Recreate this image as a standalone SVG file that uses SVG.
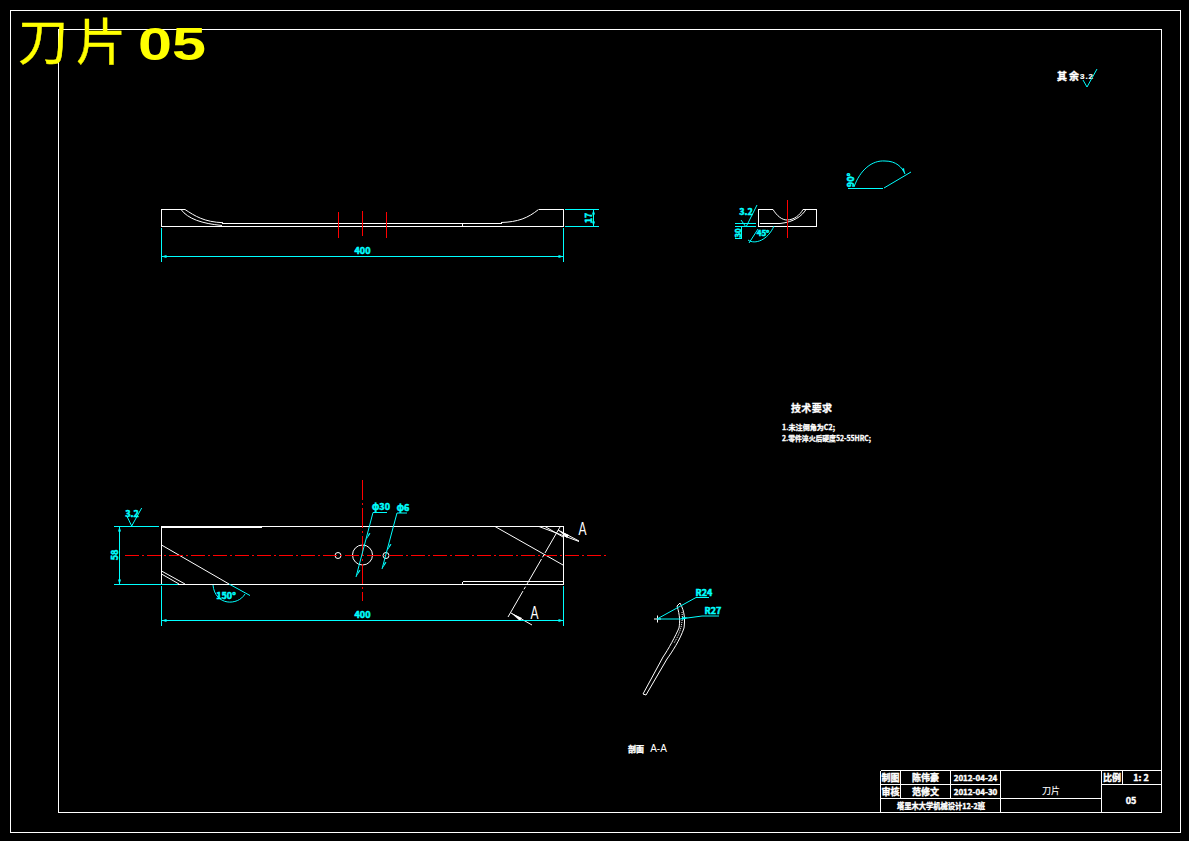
<svg xmlns="http://www.w3.org/2000/svg" width="1189" height="841" viewBox="0 0 1189 841">
<style>
.w{fill:none;stroke:#fff;stroke-width:1;shape-rendering:crispEdges}
.ws{fill:none;stroke:#fff;stroke-width:1}
.c{fill:none;stroke:#0ff;stroke-width:1;shape-rendering:crispEdges}
.cs{fill:none;stroke:#0ff;stroke-width:1}
.r{fill:none;stroke:#f00;stroke-width:1.2;shape-rendering:crispEdges}
.cd{fill:none;stroke:#f00;stroke-width:1;stroke-dasharray:14 3 2 3;shape-rendering:crispEdges}
.a{fill:#0ff;stroke:none}
.l{font-family:"Liberation Sans",sans-serif}
text{font-family:"Noto Sans CJK SC","Liberation Sans",sans-serif}
.tc{fill:#0ff;stroke:#0ff;stroke-width:.5;font-size:9px;font-weight:700;text-anchor:middle}
.tw{fill:#fff;stroke:#fff;stroke-width:.4;font-size:9px;font-weight:700;text-anchor:middle}
</style>
<rect width="1189" height="841" fill="#000"/>
<g id="frame">
<rect class="w" x="10.500" y="10.500" width="1170" height="822"/>
<rect class="w" x="58.500" y="29.500" width="1103" height="783"/>
</g>
<g id="title">
<text x="18" y="60" font-size="50" fill="#ff0" stroke="#ff0" stroke-width=".4" textLength="108">刀片</text>
<text class="l" x="138" y="60" font-size="47" font-weight="700" fill="#ff0" textLength="68" lengthAdjust="spacingAndGlyphs">05</text>
</g>
<g id="roughness-note">
<text class="tw" x="1057" y="80" style="font-size:10px;text-anchor:start" textLength="22">其余</text>
<text class="tw l" x="1080" y="79" style="font-size:8px;text-anchor:start;stroke-width:.2" textLength="13">3.2</text>
<path class="cs" d="M1083 80L1087 87L1097 69"/>
</g>
<g id="top-view">
<path class="w" d="M161.500 226.500V209.500H185M161.500 226.500H563.500V209.500H538.500M222 223.500H502M462.500 223.500V226.500"/>
<path class="ws" d="M185 209.500C195 216 204 222 223 222.700M181 209.500C188 219 202 223.500 222 225.500M538.500 209.500C528 218 518 222 501 222.500"/>
<path class="r" d="M338.500 212V238M362.500 211V236M386.500 212V238"/>
</g>
<g id="top-dimensions">
<path class="c" d="M161.500 228V262M563.500 228V262M161.500 256.500H563.500M565 209.500H599M565 226.500H599M593.500 209.500V226.500"/>
<path class="a" d="M161.500 256.500l5-1.500v3zM563.500 256.500l-5-1.500v3zM593.500 209.500l-1.500 5h3zM593.500 226.500l-1.500-5h3z"/>
<text class="tc" x="362.500" y="254">400</text>
<text class="tc" transform="translate(592 218) rotate(-90)">17</text>
</g>
<g id="plan-view">
<path class="w" d="M161.500 584.500V526.500H563.500V584.500H161.500M462.500 581.500H563.500M462.500 581.500V584.500"/>
<path class="w" style="stroke-width:2" d="M162 526.500H262"/>
<path class="ws" d="M161.500 545L229 584M161.500 571L185 584M161.500 574L179 584M495 526.500L563 565M539 526.500L579 541.500M545 526.500L563 537"/>
<circle class="ws" cx="362.500" cy="555" r="10"/>
<circle class="ws" cx="338" cy="555.500" r="3"/>
<circle class="ws" cx="386" cy="555.500" r="3"/>
<path class="cd" d="M125 555.500H608"/>
<path class="r" stroke-dasharray="20 3 2 3" d="M362.500 480V601"/>
<path class="ws" stroke-dasharray="30 2 3 2" d="M560 527L508 617"/>
<path class="ws" d="M511 613L532 625M558 530L579 541"/>
<path d="M511 613l11 5-2 3zM558 530l11 5-2 3z" fill="#fff"/>
<text class="l" x="582.500" y="535" font-size="19" fill="#fff" text-anchor="middle" textLength="8" lengthAdjust="spacingAndGlyphs">A</text>
<text class="l" x="534.500" y="619" font-size="19" fill="#fff" text-anchor="middle" textLength="8" lengthAdjust="spacingAndGlyphs">A</text>
</g>
<g id="plan-dimensions">
<path class="c" d="M114 526.500H159M114 584.500H178M119.500 526.500V584.500M161.500 586V626M563.500 586V626M161.500 620.500H563.500"/>
<path class="a" d="M119.500 526.500l-1.500 5h3zM119.500 584.500l-1.500-5h3zM161.500 620.500l5-1.500v3zM563.500 620.500l-5-1.500v3z"/>
<path class="cs" d="M229 584L250 595.500M213 585C215 606 238 606 245 594"/>
<path class="cs" d="M126.700 515.700L131.700 526L141.700 508"/>
<text class="tc" x="132" y="517">3.2</text>
<text class="tc" transform="translate(118 555) rotate(-90)">58</text>
<text class="tc" x="226" y="599">150°</text>
<text class="tc" x="362.500" y="618">400</text>
<path class="cs" d="M356 577L373 512.500H387M382 569L397 513H407"/>
<path class="a" d="M356 577l3-7 1.500 .5zM366 540l3-7 1.500 .5zM382 569l3-7 1.500 .5zM387 551l3-7 1.500 .5z"/>
<text class="tc" x="381" y="510">φ30</text>
<text class="tc" x="403" y="511">φ6</text>
</g>
<g id="detail-view">
<path class="w" d="M758.500 226.500V209.500H773M758.500 226.500H816.500V209.500H803M760 223.500H780"/>
<path class="ws" d="M773 209.500C777 216 782 220 787 220C794 220 800 215 803 209.500M806 209.500C802 216 794 222 780 223.500"/>
<path class="r" d="M787.500 200V238"/>
<path class="c" d="M735 223.500H756M735 226.500H756M735 238.500H741M741 226.500V238.500"/>
<path class="cs" d="M741 220L746 227L757 205M749 243L758 229M748 240C755 245 768 240 774 226"/>
<text class="tc" x="746" y="215">3.2</text>
<text class="tc" transform="translate(741 233) rotate(-90)" style="font-size:8px">30</text>
<text class="tc" x="763" y="236" style="font-size:8px">45°</text>
</g>
<g id="detail-angle">
<path class="c" d="M848 188.500H883"/>
<path class="cs" d="M854 187C860 170 872 160 885 161C896 161 902 167 905 174M884 188L911 172"/>
<path class="a" d="M905 174l-3-5 2-1z"/>
<text class="tc" transform="translate(854 180) rotate(-90)">90°</text>
</g>
<g id="tech-notes">
<text class="tw" x="791" y="412" style="font-size:10px;stroke-width:.3;text-anchor:start" textLength="41">技术要求</text>
<text class="tw" x="782" y="430" style="text-anchor:start;font-size:7px;stroke-width:.3" textLength="53" lengthAdjust="spacingAndGlyphs">1.未注倒角为C2;</text>
<text class="tw" x="782" y="441" style="text-anchor:start;font-size:7px;stroke-width:.3" textLength="89" lengthAdjust="spacingAndGlyphs">2.零件淬火后硬度52-55HRC;</text>
</g>
<g id="section-view">
<path class="ws" d="M643 694L646 695L667 659C672 652 680 640 684 628C685 620 685 612 680 603L677 606C680 615 680 622 679 628C676 635 668 650 663 657Z"/>
<path class="ws" stroke-dasharray="1 1" d="M682 612C683 622 681 632 674 643"/>
<path class="ws" d="M654 619H661M657.500 615.500V622.500"/>
<path class="cs" d="M657 619L696 597.500H709M657 619H680L702 616H719"/>
<path class="a" d="M688 617.500l-6-.5 0 3z"/>
<text class="tc" x="704" y="596">R24</text>
<text class="tc" x="713" y="614">R27</text>
<text class="tw" x="636" y="752" style="font-size:8px">剖面</text>
<text class="l" x="658.500" y="752" font-size="10" fill="#fff" text-anchor="middle">A-A</text>
</g>
<g id="title-block">
<path class="w" d="M880.500 770.500H1161.500M880.500 784.500H1000.500M1101.500 784.500H1161.500M880.500 798.500H1101.500M880.500 770.500V812.500M900.500 770.500V798.500M950.500 770.500V798.500M1000.500 770.500V812.500M1101.500 770.500V812.500M1122.500 770.500V784.500"/>
<text class="tw" x="890.500" y="781">制图</text>
<text class="tw" x="925.500" y="781">陈伟豪</text>
<text class="tw" x="975.500" y="781" style="font-size:8px">2012-04-24</text>
<text class="tw" x="890.500" y="795">审核</text>
<text class="tw" x="925.500" y="795">范修文</text>
<text class="tw" x="975.500" y="795" style="font-size:8px">2012-04-30</text>
<text class="tw" x="897" y="809" style="font-size:8px;text-anchor:start" textLength="88" lengthAdjust="spacingAndGlyphs">塔里木大学机械设计12-2班</text>
<text class="tw" x="1051" y="794" style="stroke-width:.1;font-weight:400">刀片</text>
<text class="tw" x="1112" y="781">比例</text>
<text class="tw" x="1141" y="781">1: 2</text>
<text class="tw" x="1131" y="804">05</text>
</g>
</svg>
